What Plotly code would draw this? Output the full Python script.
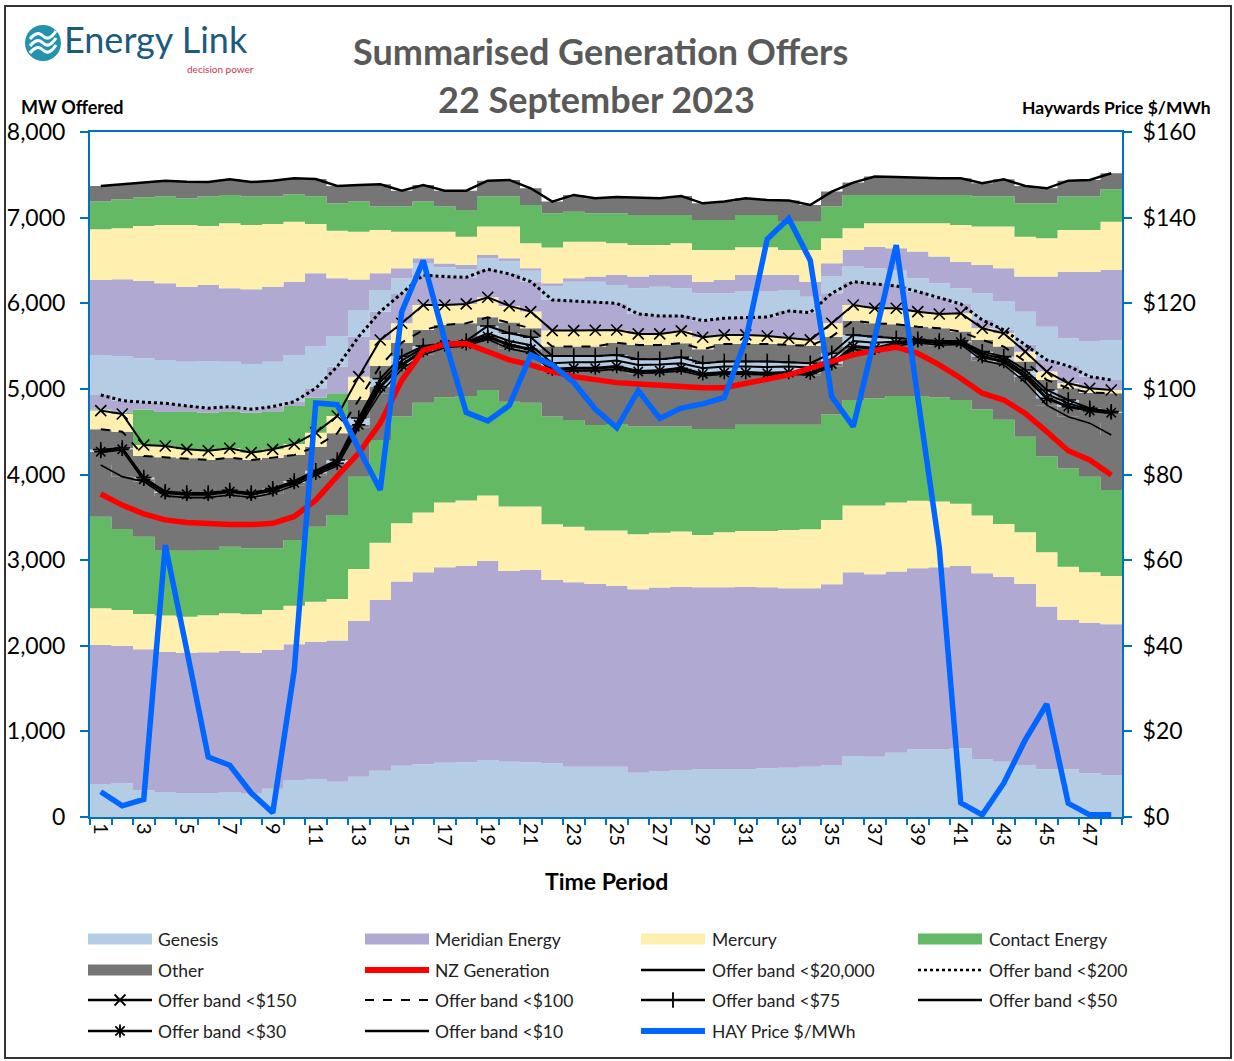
import plotly.graph_objects as go

# ---------------- data (MW, cumulative stack tops) ----------------
periods = list(range(1, 49))
tick_periods = list(range(1, 48, 2))

# lowest price tier (< $10) stacked by company: cumulative tops
genesis_low_top = [385, 393, 311, 292, 280, 280, 292, 272, 331, 432,
                   444, 413, 471, 541, 600, 615, 635, 639, 666, 646,
                   639, 627, 588, 588, 588, 518, 530, 549, 561, 561,
                   561, 569, 576, 588, 607, 712, 705, 751, 790, 790,
                   802, 677, 646, 607, 557, 557, 510, 490]
meridian_low_top = [2009, 2001, 1958, 1931, 1919, 1923, 1942, 1919, 1950, 2017,
                    2048, 2060, 2293, 2534, 2749, 2858, 2916, 2935, 2990, 2873,
                    2885, 2768, 2741, 2722, 2702, 2659, 2679, 2690, 2683, 2683,
                    2690, 2683, 2671, 2671, 2718, 2858, 2835, 2866, 2905, 2916,
                    2932, 2846, 2807, 2722, 2457, 2301, 2270, 2251]
mercury_low_top = [2437, 2418, 2371, 2352, 2340, 2356, 2379, 2367, 2418, 2468,
                   2515, 2546, 2897, 3204, 3430, 3555, 3672, 3695, 3754, 3625,
                   3625, 3419, 3391, 3345, 3345, 3302, 3321, 3333, 3294, 3325,
                   3341, 3341, 3352, 3360, 3469, 3637, 3637, 3672, 3692, 3684,
                   3657, 3520, 3423, 3325, 3091, 2924, 2858, 2815]
contact_low_top = [3508, 3364, 3274, 3118, 3110, 3118, 3157, 3138, 3138, 3235,
                   3391, 3528, 3975, 4403, 4676, 4839, 4901, 4917, 4987, 4850,
                   4839, 4676, 4637, 4578, 4590, 4560, 4560, 4560, 4530, 4530,
                   4580, 4580, 4580, 4580, 4700, 4870, 4890, 4917, 4917, 4900,
                   4870, 4760, 4640, 4440, 4210, 4070, 3975, 3820]

# cumulative offer band lines
band_10 = [4111, 3975, 3917, 3750, 3730, 3730, 3760, 3730, 3780, 3870,
           3990, 4100, 4550, 4950, 5230, 5400, 5480, 5500, 5580, 5470,
           5420, 5200, 5210, 5210, 5230, 5180, 5190, 5210, 5150, 5170,
           5170, 5160, 5170, 5160, 5260, 5460, 5440, 5500, 5540, 5510,
           5520, 5330, 5280, 5080, 4810, 4675, 4600, 4462]
band_30 = [4267, 4294, 3944, 3788, 3769, 3769, 3800, 3769, 3819, 3905,
           4014, 4131, 4580, 5026, 5280, 5447, 5513, 5525, 5611, 5513,
           5462, 5229, 5241, 5241, 5260, 5202, 5213, 5241, 5174, 5190,
           5190, 5182, 5190, 5182, 5291, 5494, 5474, 5533, 5560, 5540,
           5545, 5377, 5319, 5143, 4890, 4793, 4746, 4722]
band_50 = [4280, 4300, 3955, 3795, 3778, 3778, 3808, 3778, 3828, 3915,
           4030, 4150, 4620, 5080, 5330, 5480, 5530, 5545, 5650, 5560,
           5510, 5300, 5310, 5310, 5330, 5280, 5285, 5300, 5240, 5260,
           5260, 5255, 5260, 5250, 5350, 5560, 5540, 5550, 5565, 5548,
           5550, 5410, 5350, 5180, 4940, 4830, 4760, 4728]
band_75 = [4290, 4310, 3965, 3800, 3785, 3785, 3815, 3785, 3835, 3925,
           4045, 4170, 4660, 5120, 5380, 5500, 5533, 5560, 5735, 5650,
           5603, 5385, 5385, 5385, 5396, 5346, 5346, 5369, 5299, 5319,
           5319, 5319, 5310, 5299, 5416, 5630, 5610, 5591, 5580, 5560,
           5560, 5435, 5377, 5221, 4987, 4870, 4773, 4734]
band_100 = [4528, 4500, 4216, 4201, 4189, 4170, 4197, 4170, 4197, 4228,
            4325, 4481, 4870, 5268, 5540, 5688, 5747, 5766, 5836, 5774,
            5708, 5494, 5494, 5494, 5540, 5513, 5513, 5533, 5462, 5525,
            5525, 5525, 5513, 5505, 5610, 5797, 5766, 5755, 5727, 5708,
            5669, 5572, 5494, 5319, 5104, 5007, 4956, 4948]
band_150 = [4746, 4707, 4345, 4333, 4294, 4278, 4306, 4255, 4294, 4356,
            4489, 4683, 5143, 5571, 5766, 5980, 5980, 5992, 6070, 5969,
            5903, 5681, 5681, 5685, 5688, 5642, 5642, 5677, 5603, 5630,
            5630, 5618, 5591, 5572, 5766, 5980, 5941, 5941, 5902, 5875,
            5883, 5708, 5649, 5435, 5202, 5065, 5007, 4987]
# Contact MW inside the $150-$200 band (green strip, overnight)
contact_150_200 = [14, 13, 415, 398, 446, 442, 434, 465, 446, 444,
                   411, 267, 0, 0, 0, 0, 0, 0, 0, 0,
                   0, 0, 0, 0, 0, 0, 0, 0, 0, 0,
                   0, 0, 0, 0, 0, 0, 0, 0, 0, 0,
                   0, 0, 0, 0, 0, 0, 0, 0]
band_200 = [4929, 4863, 4844, 4832, 4801, 4774, 4793, 4762, 4793, 4851,
            5007, 5260, 5610, 5902, 6116, 6330, 6311, 6303, 6397, 6342,
            6253, 6039, 6025, 6015, 6000, 5875, 5852, 5852, 5797, 5825,
            5836, 5840, 5910, 5891, 6116, 6252, 6225, 6202, 6136, 6066,
            5992, 5805, 5689, 5514, 5338, 5268, 5143, 5104]

# highest price tier (< $20,000) stacked by company: cumulative tops
genesis_high_top = [5396, 5377, 5357, 5338, 5318, 5326, 5318, 5291, 5318, 5396,
                    5494, 5618, 5922, 6155, 6291, 6470, 6420, 6400, 6525, 6490,
                    6380, 6200, 6250, 6250, 6214, 6175, 6194, 6175, 6116, 6116,
                    6136, 6136, 6155, 6077, 6311, 6428, 6408, 6389, 6291, 6233,
                    6175, 6116, 6019, 5902, 5727, 5591, 5552, 5572]
meridian_high_top = [6272, 6280, 6264, 6233, 6194, 6214, 6175, 6163, 6194, 6252,
                     6350, 6291, 6276, 6350, 6408, 6525, 6465, 6447, 6564, 6525,
                     6408, 6233, 6291, 6311, 6330, 6311, 6330, 6330, 6252, 6272,
                     6330, 6330, 6330, 6252, 6467, 6622, 6661, 6642, 6603, 6545,
                     6486, 6447, 6408, 6311, 6311, 6369, 6369, 6389]
mercury_high_top = [6864, 6876, 6903, 6914, 6914, 6903, 6934, 6914, 6926, 6953,
                    6926, 6848, 6836, 6856, 6836, 6836, 6836, 6778, 6895, 6895,
                    6700, 6650, 6719, 6719, 6700, 6681, 6681, 6700, 6622, 6622,
                    6653, 6653, 6622, 6622, 6758, 6876, 6934, 6934, 6934, 6934,
                    6914, 6895, 6895, 6778, 6758, 6856, 6856, 6953]
contact_high_top = [7187, 7215, 7238, 7246, 7226, 7246, 7265, 7246, 7250, 7273,
                    7250, 7168, 7187, 7129, 7129, 7187, 7129, 7090, 7246, 7246,
                    7148, 7051, 7070, 7051, 7051, 7031, 7031, 7031, 6973, 6973,
                    7031, 7031, 6953, 6953, 7129, 7265, 7265, 7265, 7265, 7265,
                    7265, 7246, 7246, 7168, 7168, 7246, 7246, 7331]
band_20000 = [7370, 7393, 7409, 7432, 7420, 7415, 7447, 7415, 7432, 7460,
              7450, 7370, 7382, 7390, 7315, 7382, 7315, 7315, 7432, 7440,
              7343, 7187, 7265, 7226, 7240, 7235, 7226, 7253, 7167, 7187,
              7226, 7206, 7200, 7148, 7304, 7409, 7479, 7475, 7465, 7460,
              7460, 7401, 7448, 7370, 7342, 7432, 7440, 7518]

nz_generation = [3773, 3643, 3540, 3470, 3440, 3425, 3415, 3415, 3430, 3510,
                 3700, 3980, 4250, 4600, 5100, 5450, 5520, 5530, 5435, 5338,
                 5280, 5202, 5143, 5104, 5073, 5057, 5038, 5026, 5014, 5014,
                 5065, 5124, 5163, 5241, 5319, 5397, 5448, 5487, 5416, 5280,
                 5124, 4949, 4870, 4714, 4500, 4278, 4169, 3994]
hay_price = [5.9, 2.6, 4.1, 63.5, 39.0, 14.0, 12.1, 5.6, 1.0, 34.3,
             96.7, 96.3, 86.0, 76.4, 118.0, 130.0, 111.4, 94.5, 92.5, 96.1,
             107.9, 105.6, 101.5, 95.3, 90.9, 99.6, 93.1, 95.5, 96.5, 98.0,
             111.4, 135.0, 139.8, 130.0, 98.2, 91.2, 112.0, 133.6, 98.0, 63.0,
             3.3, 0.5, 7.9, 18.0, 26.4, 3.2, 0.5, 0.5]

# ---------------- styling ----------------
C_GEN = "#B4CCE4"
C_MER = "#B0AAD2"
C_MCY = "#FFF0B0"
C_CON = "#64BA64"
C_OTH = "#767676"
AXIS_BLUE = "#0070C0"
FONT = "Lato"

fig = go.Figure()

x_edges = [p - 0.5 for p in periods] + [periods[-1] + 0.5]


def step(vals):
    return list(vals) + [vals[-1]]


contact_150_200_top = [b + c for b, c in zip(band_150, contact_150_200)]

fill_layers = [
    (genesis_low_top, C_GEN), (meridian_low_top, C_MER), (mercury_low_top, C_MCY),
    (contact_low_top, C_CON), (band_10, C_OTH), (band_30, C_OTH),
    (band_50, C_GEN), (band_75, C_GEN), (band_100, C_OTH), (band_150, C_MCY),
    (contact_150_200_top, C_CON), (band_200, C_MER),
    (genesis_high_top, C_GEN), (meridian_high_top, C_MER), (mercury_high_top, C_MCY),
    (contact_high_top, C_CON), (band_20000, C_OTH),
]
for i, (vals, col) in enumerate(fill_layers):
    fig.add_trace(go.Scatter(
        x=x_edges, y=step(vals), mode="lines", line=dict(width=0, shape="hv", color=col),
        fill="tozeroy" if i == 0 else "tonexty", fillcolor=col,
        showlegend=False, hoverinfo="skip"))

line_specs = [
    (band_20000, dict(color="black", width=2.5), None),
    (band_200, dict(color="black", width=3, dash="dot"), None),
    (band_150, dict(color="black", width=2), "x-thin-open"),
    (band_100, dict(color="black", width=2, dash="dash"), None),
    (band_75, dict(color="black", width=2), "cross-thin-open"),
    (band_50, dict(color="black", width=2), None),
    (band_30, dict(color="black", width=3), "asterisk-open"),
    (band_10, dict(color="black", width=1.6), None),
]
for vals, ln, sym in line_specs:
    fig.add_trace(go.Scatter(
        x=periods, y=vals, mode="lines+markers" if sym else "lines", line=ln,
        marker=dict(symbol=sym or "circle", size=11, color="black",
                    line=dict(color="black", width=1.6)),
        showlegend=False))

fig.add_trace(go.Scatter(x=periods, y=nz_generation, mode="lines",
                         line=dict(color="#FF0000", width=5.5), showlegend=False))
fig.add_trace(go.Scatter(x=periods, y=hay_price, mode="lines", yaxis="y2",
                         line=dict(color="#0066FF", width=5.5), showlegend=False))

# ---------------- legend (drawn on a pixel-scaled overlay axis) ----------------
legend_items = [
    ("Genesis", "area", C_GEN, None),
    ("Meridian Energy", "area", C_MER, None),
    ("Mercury", "area", C_MCY, None),
    ("Contact Energy", "area", C_CON, None),
    ("Other", "area", C_OTH, None),
    ("NZ Generation", "line", dict(color="#FF0000", width=6), None),
    ("Offer band <$20,000", "line", dict(color="black", width=2.5), None),
    ("Offer band <$200", "line", dict(color="black", width=2.5, dash="dot"), None),
    ("Offer band <$150", "line", dict(color="black", width=2.5), "x-thin-open"),
    ("Offer band <$100", "line", dict(color="black", width=2.2, dash="dash"), None),
    ("Offer band <$75", "line", dict(color="black", width=2.5), "cross-thin-open"),
    ("Offer band <$50", "line", dict(color="black", width=2.5), None),
    ("Offer band <$30", "line", dict(color="black", width=2.5), "asterisk-open"),
    ("Offer band <$10", "line", dict(color="black", width=2.5), None),
    ("HAY Price $/MWh", "line", dict(color="#0066FF", width=6), None),
]
sw_x = [88, 365, 641, 918]
tx_x = [156, 433, 710, 987]
row_y = [939, 970, 1000, 1031]
SW = 64
shapes = []
annotations = []
for k, (label, kind, style, sym) in enumerate(legend_items):
    r, c = divmod(k, 4)
    x0, yc = sw_x[c], row_y[r]
    if kind == "area":
        shapes.append(dict(type="rect", xref="x3", yref="y3", x0=x0, x1=x0 + SW,
                           y0=yc - 5.5, y1=yc + 5.5, fillcolor=style, line=dict(width=0)))
    else:
        fig.add_trace(go.Scatter(x=[x0, x0 + SW], y=[yc, yc], mode="lines", line=style,
                                 xaxis="x3", yaxis="y3", showlegend=False, hoverinfo="skip"))
        if sym:
            fig.add_trace(go.Scatter(x=[x0 + SW / 2], y=[yc], mode="markers",
                                     marker=dict(symbol=sym, size=11, color="black",
                                                 line=dict(color="black", width=1.8)),
                                     xaxis="x3", yaxis="y3", showlegend=False, hoverinfo="skip"))
    annotations.append(dict(xref="x3", yref="y3", x=tx_x[c], y=yc, text=label, showarrow=False,
                            xanchor="left", yanchor="middle",
                            font=dict(family=FONT, size=17.5, color="#222222")))

# ---------------- titles & labels ----------------
annotations += [
    dict(xref="x3", yref="y3", x=600, y=51, text="<b>Summarised Generation Offers</b>",
         showarrow=False, xanchor="center", yanchor="middle",
         font=dict(family=FONT, size=36, color="#595959")),
    dict(xref="x3", yref="y3", x=596, y=99, text="<b>22 September 2023</b>",
         showarrow=False, xanchor="center", yanchor="middle",
         font=dict(family=FONT, size=36, color="#595959")),
    dict(xref="x3", yref="y3", x=19, y=107, text="<b>MW Offered</b>", showarrow=False,
         xanchor="left", yanchor="middle", font=dict(family=FONT, size=18, color="black")),
    dict(xref="x3", yref="y3", x=1213, y=107, text="<b>Haywards Price $/MWh</b>",
         showarrow=False, xanchor="right", yanchor="middle",
         font=dict(family=FONT, size=17.5, color="black")),
    dict(xref="x3", yref="y3", x=606, y=881, text="<b>Time Period</b>", showarrow=False,
         xanchor="center", yanchor="middle", font=dict(family=FONT, size=23, color="black")),
    dict(xref="x3", yref="y3", x=62, y=39, text="Energy Link", showarrow=False,
         xanchor="left", yanchor="middle", font=dict(family=FONT, size=36, color="#1C5A7E")),
    dict(xref="x3", yref="y3", x=256, y=69, text="decision power", showarrow=False,
         xanchor="right", yanchor="middle", font=dict(family=FONT, size=10, color="#C8364E")),
]

# logo mark
shapes.append(dict(type="circle", xref="x3", yref="y3", x0=25, x1=61, y0=25, y1=61,
                   fillcolor="#2393AD", line=dict(width=0)))
for dy in (-7, 0, 7):
    shapes.append(dict(type="path", xref="x3", yref="y3",
                       path=f"M 30,{46 + dy} Q 37,{37 + dy} 43,{43 + dy} T 56,{38 + dy}",
                       line=dict(color="white", width=3)))

# outer border
shapes.append(dict(type="rect", xref="x3", yref="y3", x0=5, x1=1231, y0=6, y1=1058,
                   line=dict(color="#333333", width=2), fillcolor="rgba(0,0,0,0)"))

W, H = 1234, 1061
fig.update_layout(
    width=W, height=H, margin=dict(l=0, r=0, t=0, b=0, autoexpand=False),
    paper_bgcolor="white", plot_bgcolor="rgba(0,0,0,0)",
    font=dict(family=FONT, color="black"),
    showlegend=False,
    xaxis=dict(domain=[90 / W, 1122 / W], range=[0.5, 48.5], tickmode="array",
               tickvals=tick_periods, ticktext=[str(p) for p in tick_periods],
               tickangle=90, ticks="", showline=True, linecolor=AXIS_BLUE, linewidth=2,
               mirror=True, showgrid=False, zeroline=False, automargin=False,
               tickfont=dict(family=FONT, size=20, color="black"),
               minor=dict(ticks="outside", tickmode="linear", tick0=0.5, dtick=1,
                          ticklen=6, tickcolor=AXIS_BLUE, tickwidth=1.5, showgrid=False)),
    yaxis=dict(domain=[1 - 817 / H, 1 - 132 / H], range=[0, 8000], dtick=1000,
               tickformat=",", ticks="outside", ticklen=8, tickcolor=AXIS_BLUE, tickwidth=1.5,
               showline=True, linecolor=AXIS_BLUE, linewidth=2, mirror=True,
               showgrid=False, zeroline=False, automargin=False, ticklabelstandoff=10,
               tickfont=dict(family=FONT, size=23, color="black")),
    yaxis2=dict(overlaying="y", side="right", anchor="x", range=[0, 160], dtick=20,
                tickprefix="$", ticks="outside", ticklen=8, tickcolor=AXIS_BLUE, tickwidth=1.5,
                showline=True, linecolor=AXIS_BLUE, linewidth=2, showgrid=False,
                zeroline=False, automargin=False, ticklabelstandoff=6,
                tickfont=dict(family=FONT, size=23, color="black")),
    xaxis3=dict(domain=[0, 1], range=[0, W], visible=False, fixedrange=True, automargin=False),
    yaxis3=dict(domain=[0, 1], range=[H, 0], visible=False, fixedrange=True, automargin=False),
    shapes=shapes, annotations=annotations,
)

fig.write_html("out.html", config={"displayModeBar": False},
               post_script="document.body.style.margin='0';"
                           "document.body.style.overflow='hidden';")
